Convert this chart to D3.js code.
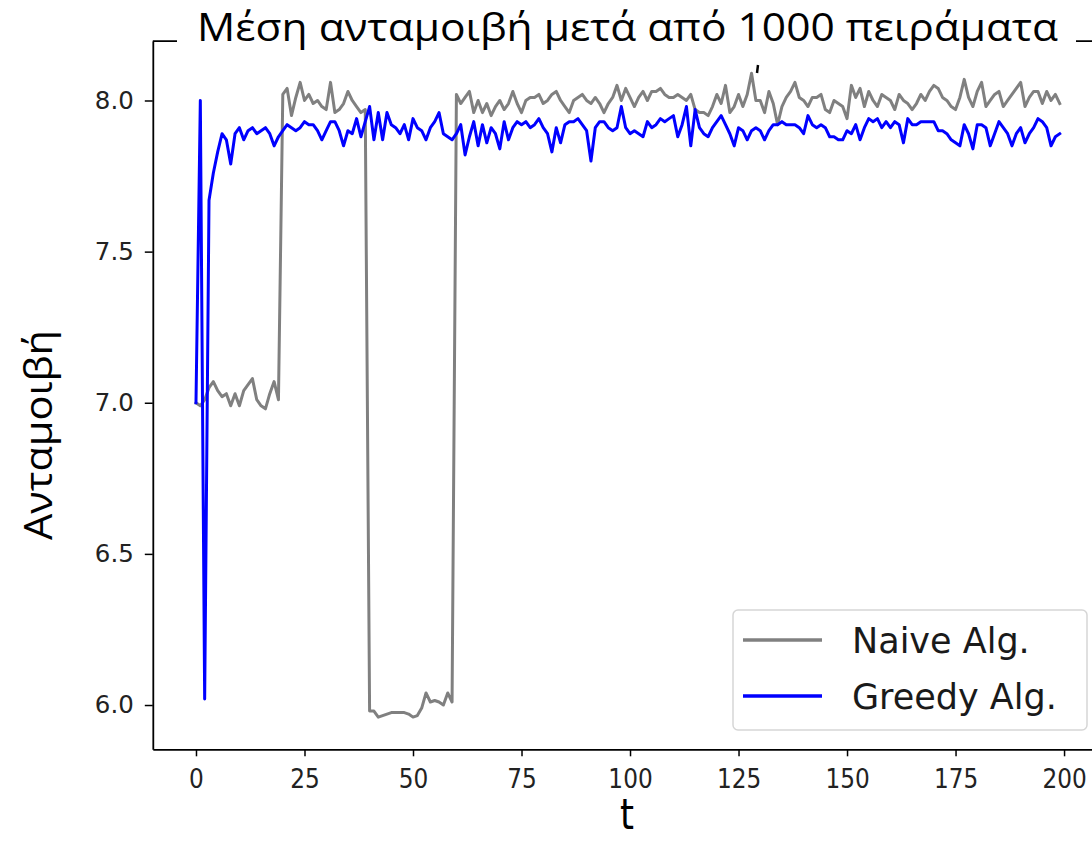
<!DOCTYPE html>
<html>
<head>
<meta charset="utf-8">
<script src="https://cdn.jsdelivr.net/npm/d3@7"></script>
<style>
  html, body { margin: 0; padding: 0; background: #fff; }
  svg { display: block; }
</style>
</head>
<body>
<svg id="chart" width="1092" height="841"></svg>
<script>
// Average reward per step (t = 0..199), averaged over 1000 runs
const naive = [
  7.00, 6.99, 7.01, 7.05, 7.07, 7.04, 7.02, 7.03, 6.99, 7.03, 6.99, 7.04, 7.06, 7.08, 7.01, 6.99, 6.98, 7.03, 7.07, 7.01,
  8.02, 8.04, 7.95, 8.01, 8.06, 8.00, 8.02, 7.99, 8.00, 7.98, 7.97, 8.06, 7.96, 7.97, 7.99, 8.03, 8.00, 7.98, 7.96, 7.97,
  5.98, 5.98, 5.96, 5.965, 5.97, 5.975, 5.975, 5.975, 5.975, 5.97, 5.96, 5.965, 5.99, 6.04, 6.01, 6.015, 6.01, 6.00, 6.04, 6.01,
  8.02, 7.99, 8.01, 8.03, 7.96, 8.00, 7.96, 7.99, 7.95, 7.98, 8.00, 7.97, 7.99, 8.03, 7.99, 7.96, 8.00, 8.01, 8.01, 8.02,
  7.99, 8.00, 8.02, 8.03, 8.00, 7.98, 7.96, 8.00, 8.01, 8.02, 8.00, 7.99, 8.01, 7.99, 7.96, 7.99, 8.01, 8.05, 8.00, 8.04,
  8.01, 7.98, 8.01, 8.03, 8.00, 8.03, 8.03, 8.04, 8.02, 8.01, 8.01, 8.02, 8.01, 8.00, 8.02, 7.97, 7.96, 7.96, 7.95, 7.98,
  8.02, 7.99, 8.05, 7.96, 7.98, 8.02, 7.98, 8.02, 8.09, 8.00, 8.00, 7.96, 8.03, 7.99, 7.92, 7.98, 8.01, 8.03, 8.06, 8.01,
  8.00, 7.98, 8.01, 8.01, 8.02, 7.97, 7.96, 8.00, 7.99, 7.98, 7.94, 8.05, 8.01, 8.04, 7.98, 8.03, 8.00, 7.98, 8.02, 8.01,
  8.00, 7.97, 8.02, 8.00, 7.99, 7.97, 7.99, 8.02, 8.00, 8.03, 8.05, 8.04, 8.01, 8.00, 7.98, 7.97, 8.01, 8.07, 8.01, 7.98,
  8.03, 8.06, 7.98, 8.00, 8.02, 8.03, 7.98, 8.00, 8.02, 8.04, 8.06, 7.98, 8.01, 8.03, 8.03, 7.99, 8.03, 8.00, 8.02, 7.99
];

const greedy = [
  7.00, 8.00, 6.02, 7.67, 7.76, 7.83, 7.89, 7.87, 7.79, 7.89, 7.91, 7.87, 7.90, 7.91, 7.89, 7.90, 7.91, 7.89, 7.85, 7.88,
  7.90, 7.92, 7.91, 7.90, 7.91, 7.93, 7.92, 7.92, 7.90, 7.87, 7.90, 7.93, 7.93, 7.90, 7.85, 7.90, 7.89, 7.94, 7.88, 7.93,
  7.98, 7.87, 7.96, 7.87, 7.96, 7.92, 7.91, 7.89, 7.92, 7.87, 7.94, 7.91, 7.90, 7.87, 7.91, 7.93, 7.96, 7.89, 7.88, 7.87,
  7.89, 7.92, 7.82, 7.88, 7.93, 7.85, 7.92, 7.86, 7.91, 7.89, 7.84, 7.93, 7.87, 7.91, 7.93, 7.92, 7.93, 7.91, 7.92, 7.94,
  7.91, 7.89, 7.83, 7.91, 7.86, 7.92, 7.93, 7.93, 7.94, 7.92, 7.90, 7.80, 7.91, 7.93, 7.93, 7.91, 7.90, 7.91, 7.98, 7.91,
  7.89, 7.90, 7.89, 7.88, 7.93, 7.91, 7.92, 7.94, 7.93, 7.94, 7.95, 7.88, 7.92, 7.98, 7.85, 7.97, 7.91, 7.89, 7.88, 7.91,
  7.93, 7.95, 7.92, 7.89, 7.85, 7.91, 7.90, 7.87, 7.90, 7.91, 7.90, 7.87, 7.90, 7.92, 7.92, 7.93, 7.92, 7.92, 7.92, 7.91,
  7.89, 7.95, 7.92, 7.91, 7.92, 7.91, 7.88, 7.88, 7.87, 7.87, 7.90, 7.89, 7.92, 7.87, 7.91, 7.94, 7.93, 7.94, 7.91, 7.93,
  7.91, 7.93, 7.92, 7.86, 7.94, 7.92, 7.92, 7.93, 7.93, 7.93, 7.93, 7.90, 7.90, 7.89, 7.87, 7.86, 7.85, 7.92, 7.89, 7.84,
  7.92, 7.92, 7.91, 7.85, 7.89, 7.93, 7.91, 7.89, 7.85, 7.89, 7.91, 7.86, 7.89, 7.91, 7.94, 7.93, 7.91, 7.85, 7.88, 7.89
];

const seriesNames = ["Naive Alg.", "Greedy Alg."];
const seriesColors = ["#808080", "#0000ff"];
const xTicks = [0, 25, 50, 75, 100, 125, 150, 175, 200];
const yTicks = [6.0, 6.5, 7.0, 7.5, 8.0];
const titleText = "Μέση ανταμοιβή μετά από 1000 πειράματα";
const xLabel = "t";
const yLabel = "Ανταμοιβή";

const svg = d3.select("#chart");
const W = 1092, H = 841;
svg.append("rect").attr("width", W).attr("height", H).attr("fill", "#fff");

// Axis limits with 5% padding around the data
const n = naive.length;
const xPad = (n - 1) * 0.05;
const allVals = naive.concat(greedy);
const [vMin, vMax] = d3.extent(allVals);
const yPad = (vMax - vMin) * 0.05;

const plot = { left: 152.8, right: 1102.9, top: 41.1, bottom: 749.3 };

const x = d3.scaleLinear().domain([-xPad, (n - 1) + xPad]).range([plot.left, plot.right]);
const y = d3.scaleLinear().domain([vMin - yPad, vMax + yPad]).range([plot.bottom, plot.top]);

svg.append("clipPath").attr("id", "plotclip")
  .append("rect")
  .attr("x", plot.left).attr("y", plot.top)
  .attr("width", plot.right - plot.left).attr("height", plot.bottom - plot.top);

const line = d3.line().x((d, i) => x(i)).y(d => y(d));

const lines = svg.append("g").attr("clip-path", "url(#plotclip)");
[naive, greedy].forEach((s, k) => {
  lines.append("path")
    .datum(s)
    .attr("d", line)
    .attr("fill", "none")
    .attr("stroke", seriesColors[k])
    .attr("stroke-width", 3)
    .attr("stroke-linejoin", "round")
    .attr("stroke-linecap", "square");
});

// Frame: top spine (partly hidden under the title)
svg.append("line")
  .attr("x1", plot.left).attr("x2", plot.right)
  .attr("y1", plot.top).attr("y2", plot.top)
  .attr("stroke", "#000").attr("stroke-width", 1.8);

// Y axis
const yAxis = svg.append("g")
  .attr("transform", `translate(${plot.left},0)`)
  .call(d3.axisLeft(y).tickValues(yTicks).tickFormat(d3.format(".1f"))
    .tickSize(8).tickSizeOuter(0).tickPadding(11));
yAxis.select(".domain").attr("stroke", "#000").attr("stroke-width", 1.8);
yAxis.selectAll(".tick line").attr("stroke", "#000").attr("stroke-width", 1.5);
yAxis.selectAll(".tick text")
  .attr("font-family", "DejaVu Sans, sans-serif")
  .attr("font-size", 24.5)
  .attr("fill", "#222");

// X axis
const xAxis = svg.append("g")
  .attr("transform", `translate(0,${plot.bottom})`)
  .call(d3.axisBottom(x).tickValues(xTicks).tickFormat(d3.format("d"))
    .tickSize(7).tickSizeOuter(0).tickPadding(13));
xAxis.select(".domain").attr("stroke", "#000").attr("stroke-width", 1.8);
xAxis.selectAll(".tick line").attr("stroke", "#000").attr("stroke-width", 1.5);
xAxis.selectAll(".tick text")
  .attr("font-family", "DejaVu Sans, sans-serif")
  .attr("font-size", 27)
  .attr("fill", "#222")
  .attr("transform", "scale(0.86,1)");

// Title on a white band
svg.append("rect")
  .attr("x", 177).attr("y", 0)
  .attr("width", 899).attr("height", 52)
  .attr("fill", "#fff");
svg.append("text")
  .attr("x", 197).attr("y", 41)
  .attr("font-family", "Open Sans, sans-serif")
  .attr("font-size", 39)
  .attr("fill", "#000")
  .attr("textLength", 861)
  .attr("lengthAdjust", "spacingAndGlyphs")
  .text(titleText);

// Small stray stroke under the title
svg.append("line")
  .attr("x1", 758).attr("x2", 757)
  .attr("y1", 65).attr("y2", 73)
  .attr("stroke", "#000").attr("stroke-width", 2.5);

// Axis labels
svg.append("text")
  .attr("transform", "translate(52,435) rotate(-90)")
  .attr("text-anchor", "middle")
  .attr("font-family", "Open Sans, sans-serif")
  .attr("font-size", 38)
  .attr("fill", "#000")
  .attr("textLength", 210)
  .attr("lengthAdjust", "spacingAndGlyphs")
  .text(yLabel);

svg.append("text")
  .attr("x", 627).attr("y", 829)
  .attr("text-anchor", "middle")
  .attr("font-family", "DejaVu Sans, sans-serif")
  .attr("font-size", 42)
  .attr("fill", "#000")
  .attr("transform", "translate(627,0) scale(0.85,1) translate(-627,0)")
  .text(xLabel);

// Legend
const legend = svg.append("g");
legend.append("rect")
  .attr("x", 733).attr("y", 610)
  .attr("width", 354).attr("height", 120)
  .attr("rx", 5)
  .attr("fill", "#fff").attr("fill-opacity", 0.85)
  .attr("stroke", "#d6d6d6").attr("stroke-width", 1.5);
const legendRowsY = [640, 696];
seriesNames.forEach((name, k) => {
  legend.append("line")
    .attr("x1", 743).attr("x2", 822)
    .attr("y1", legendRowsY[k]).attr("y2", legendRowsY[k])
    .attr("stroke", seriesColors[k]).attr("stroke-width", 3.5);
  legend.append("text")
    .attr("x", 852).attr("y", legendRowsY[k] + 13)
    .attr("font-family", "DejaVu Sans, sans-serif")
    .attr("font-size", 35)
    .attr("fill", "#1a1a1a")
    .text(name);
});
</script>
</body>
</html>
